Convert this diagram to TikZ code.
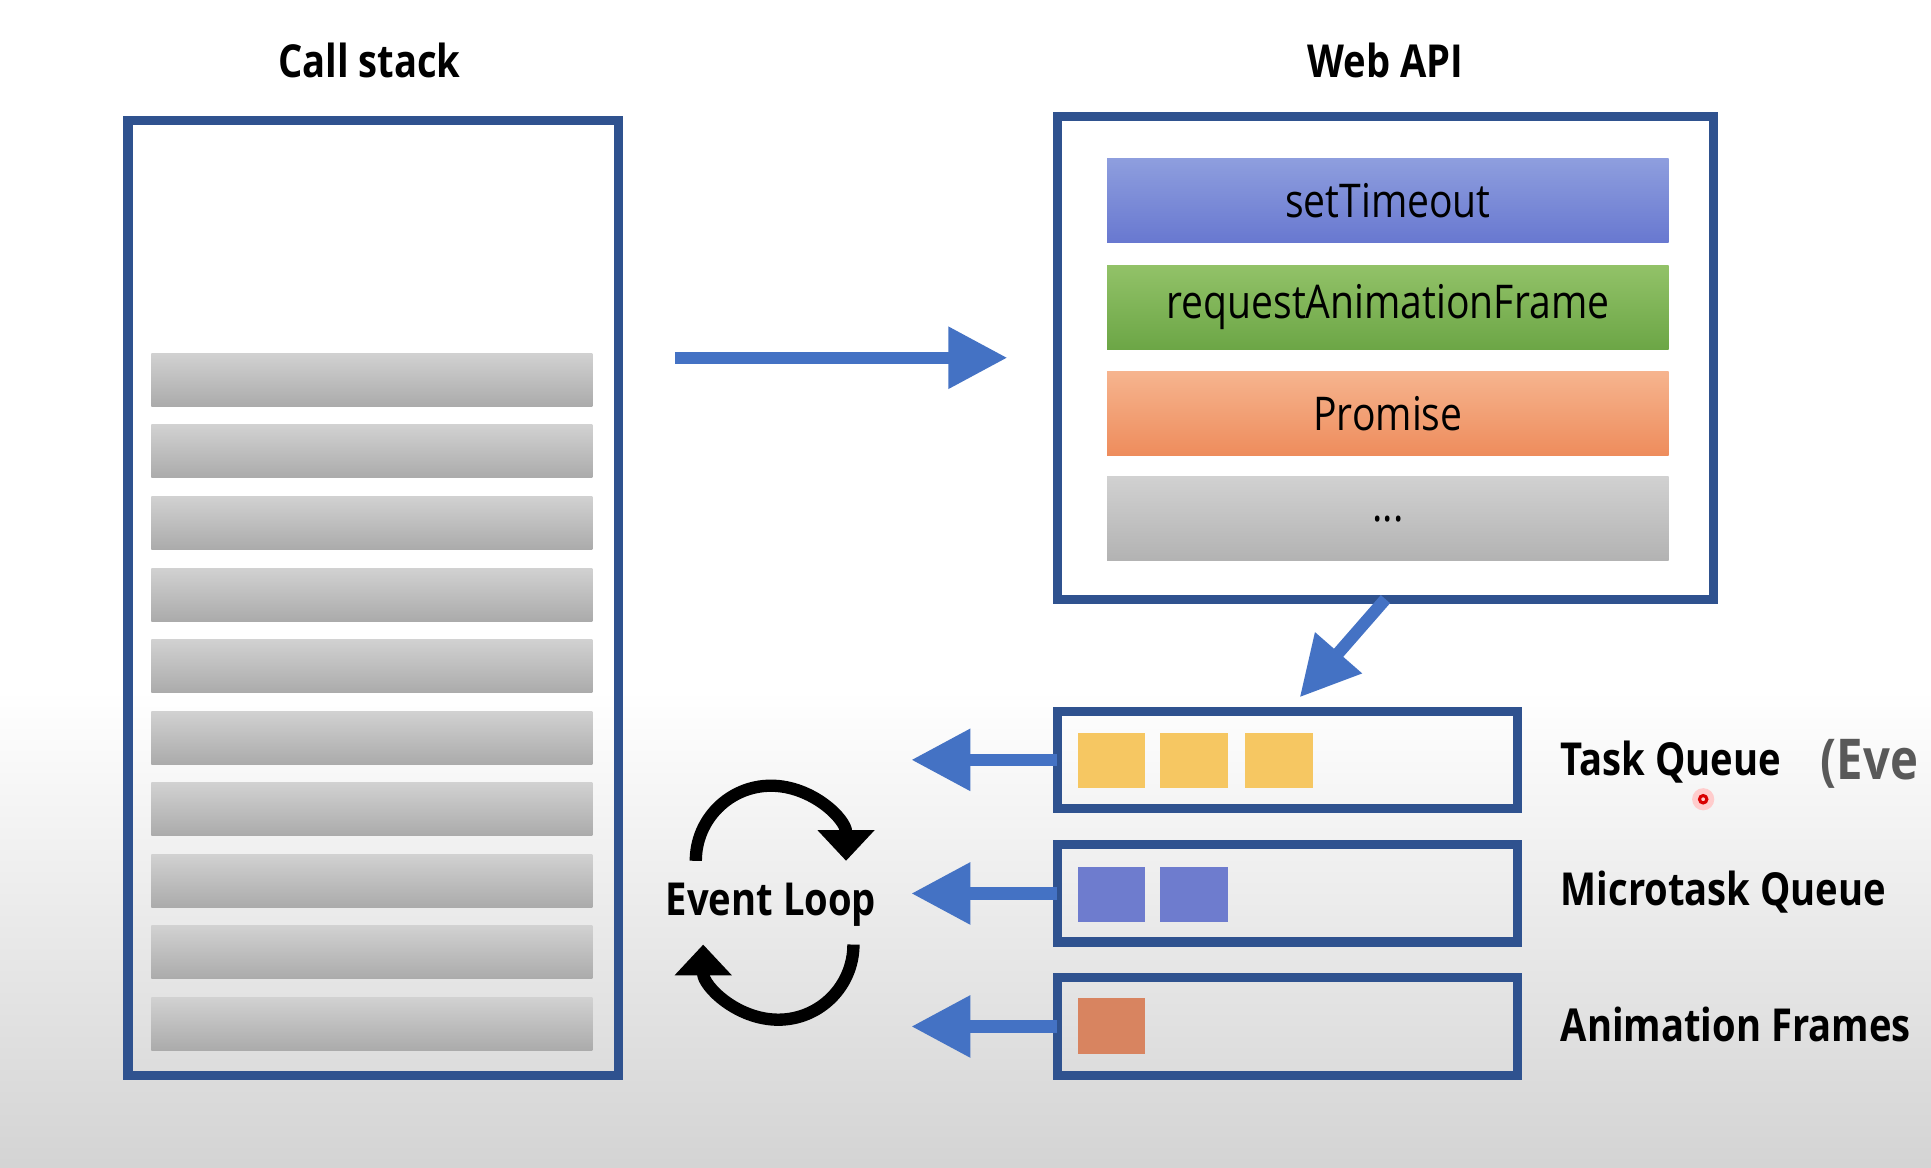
\documentclass[tikz,border=0pt]{standalone}
\usepackage{fontspec}
\setmainfont{Open Sans}[FakeStretch=0.84]
\usetikzlibrary{positioning, arrows.meta}

\definecolor{boxblue}{RGB}{47,82,143}
\definecolor{arrowblue}{RGB}{68,114,196}
\definecolor{timeoutTop}{RGB}{142,158,222}
\definecolor{timeoutBot}{RGB}{104,120,208}
\definecolor{rafTop}{RGB}{146,194,104}
\definecolor{rafBot}{RGB}{108,166,70}
\definecolor{promiseTop}{RGB}{246,180,142}
\definecolor{promiseBot}{RGB}{238,140,92}
\definecolor{taskYellow}{RGB}{246,199,98}
\definecolor{microBlue}{RGB}{110,124,206}
\definecolor{frameOrange}{RGB}{216,132,96}

\begin{document}
\begin{tikzpicture}[x=0.2mm, y=-0.2mm,
    outline/.style={draw=boxblue, line width=1.5mm, inner sep=0pt, outer sep=0pt},
    bar/.style={inner sep=0pt, outer sep=0pt, minimum width=71.6mm, minimum height=8.6mm,
        top color=black!18, bottom color=black!33},
    api/.style={inner sep=0pt, outer sep=0pt, minimum width=91.2mm, minimum height=13.6mm,
        font=\fontsize{21.5}{25}\selectfont},
    item/.style={inner sep=0pt, minimum width=11mm, minimum height=9mm},
    heading/.style={inner sep=0pt, anchor=base, font=\fontsize{21}{25}\selectfont\bfseries},
    qname/.style={heading, anchor=base west},
    flow/.style={draw=arrowblue, line width=2mm, -{Triangle[length=9.6mm, width=9.6mm]}},
    loopArrow/.style={draw=black, line width=2mm, -{Triangle[length=5mm, width=9mm]}}]

    % background
    \useasboundingbox (0,0) rectangle (1568,948);
    \fill[white] (0,0) rectangle (1568,948);
    \shade[top color=white, bottom color=black!17] (0,560) rectangle (1568,948);

    % call stack
    \node[heading] (CallTitle) at (300,63) {Call stack};
    \node[outline, minimum width=79.6mm, minimum height=155mm] (CallStack) at (303,485.5) {};
    \foreach \i in {0,...,9}
        \node[bar] (Frame\i) at (302,308.5+58.1*\i) {};

    % web api
    \node[heading] (ApiTitle) at (1125,63) {Web API};
    \node[outline, minimum width=106.6mm, minimum height=78.4mm] (WebApi) at (1125,290.5) {};
    \node[api, top color=timeoutTop, bottom color=timeoutBot] (SetTimeout) at (1127,163) {setTimeout};
    \node[api, top color=rafTop, bottom color=rafBot] (RequestFrame) at (1127,249.5) {requestAnimationFrame};
    \node[api, top color=promiseTop, bottom color=promiseBot] (Promise) at (1127,336) {Promise};
    \node[api, top color=black!18, bottom color=black!30, text depth=-6mm] (More) at (1127,421) {...};

    % queues
    \node[outline, minimum width=74.8mm, minimum height=15.8mm] (TaskQueue) at (1045.5,617) {};
    \node[outline, minimum width=74.8mm, minimum height=15.8mm] (MicroQueue) at (1045.5,725.5) {};
    \node[outline, minimum width=74.8mm, minimum height=15.8mm] (AnimFrames) at (1045.5,833.5) {};
    \node[item, fill=taskYellow] (Task1) at (902.5,617.5) {};
    \node[item, fill=taskYellow] (Task2) at (969.5,617.5) {};
    \node[item, fill=taskYellow] (Task3) at (1038.5,617.5) {};
    \node[item, fill=microBlue] (Micro1) at (902.5,726.5) {};
    \node[item, fill=microBlue] (Micro2) at (969.5,726.5) {};
    \node[item, fill=frameOrange] (Frame) at (902.5,833) {};
    \node[qname] (TaskName) at (1267,630) {Task Queue};
    \node[qname] (MicroName) at (1267,735) {Microtask Queue};
    \node[qname] (AnimName) at (1267,846) {Animation Frames};
    \node[qname, text=black!65, font=\fontsize{26}{30}\selectfont\bfseries] (EventNote) at (1478,633) {(Eve};
    \fill[red!20] (1383,649) circle (9);
    \draw[red!85!black, line width=0.5mm] (1383,649) circle (3);

    % event loop
    \node[heading] (EventLoop) at (626,743) {Event Loop};
    \draw[loopArrow] ([shift={(-61,-44)}]EventLoop.base) arc[start angle=180, end angle=360, radius=61];
    \draw[loopArrow] ([shift={(67,24)}]EventLoop.base) arc[start angle=0, end angle=180, radius=61];

    % connectors
    \coordinate[left=23.7mm of TaskQueue.west] (TaskTip);
    \coordinate[left=23.7mm of MicroQueue.west] (MicroTip);
    \coordinate[left=23.7mm of AnimFrames.west] (AnimTip);
    \draw[flow, shorten <=9.2mm, shorten >=8.1mm] (CallStack.east |- WebApi.west) -- (WebApi.west);
    \draw[flow, shorten >=3mm] (WebApi.south) -- (TaskQueue.north);
    \draw[flow] (TaskQueue.west) -- (TaskTip);
    \draw[flow] (MicroQueue.west) -- (MicroTip);
    \draw[flow] (AnimFrames.west) -- (AnimTip);
\end{tikzpicture}
\end{document}
